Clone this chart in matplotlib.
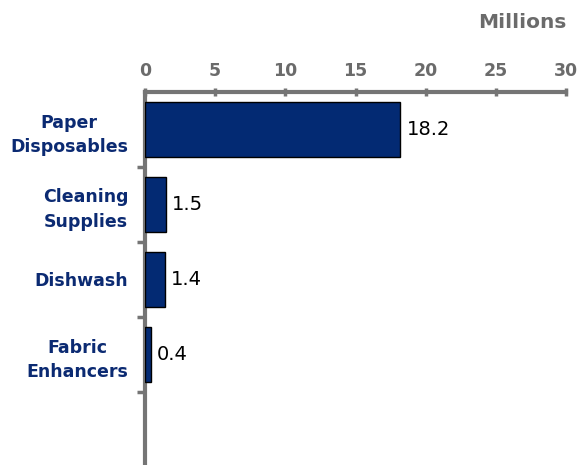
import matplotlib
matplotlib.use("Agg")
import matplotlib.pyplot as plt
from matplotlib.ticker import FixedLocator

categories = ["Paper\nDisposables", "Cleaning\nSupplies", "Dishwash", "Fabric\nEnhancers"]
values = [18.2, 1.5, 1.4, 0.4]
x_ticks = [0, 5, 10, 15, 20, 25, 30]

navy = "#032a73"
label_blue = "#0b2a72"
axis_gray = "#757575"
tick_gray = "#6b6b6b"

fig = plt.figure(figsize=(5.79, 4.65), dpi=100)
ax = fig.add_axes([145 / 579, -2 / 465, 421 / 579, 375 / 465])

y = list(range(len(categories)))
ax.barh(y, values, height=0.73, color=navy, edgecolor="black", linewidth=1.0, zorder=3)

for yi, v in zip(y, values):
    ax.text(v + 0.45, yi, f"{v:.1f}", va="center", ha="left", fontsize=14, color="black")

ax.set_xlim(0, 30)
ax.set_ylim(4.5, -0.5)

ax.xaxis.tick_top()
ax.set_xticks(x_ticks)
ax.set_xticklabels([str(t) for t in x_ticks], fontsize=12.5, fontweight="bold", color=tick_gray)
ax.tick_params(axis="x", direction="inout", length=6, width=2.5, color=axis_gray, pad=6)

ax.set_yticks(y)
ax.set_yticklabels(categories, fontsize=12.5, fontweight="bold", color=label_blue,
                   ha="right", multialignment="center", linespacing=1.45)
ax.tick_params(axis="y", which="major", length=0, pad=12)
ax.yaxis.set_minor_locator(FixedLocator([0.5, 1.5, 2.5, 3.5]))
ax.tick_params(axis="y", which="minor", direction="out", length=6, width=2.5, color=axis_gray)

for side in ["right", "bottom"]:
    ax.spines[side].set_visible(False)
for side in ["top", "left"]:
    ax.spines[side].set_color(axis_gray)
    ax.spines[side].set_linewidth(3)

fig.text(566 / 579, 1 - 22 / 465, "Millions", ha="right", va="center",
         fontsize=14.5, fontweight="bold", color=tick_gray)

fig.savefig("out.png", dpi=100)
